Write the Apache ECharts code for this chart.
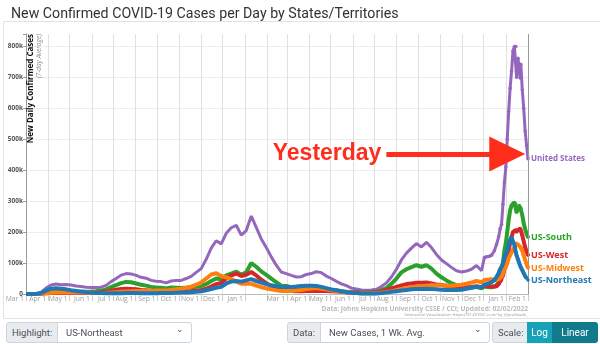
<!DOCTYPE html>
<html><head><meta charset="utf-8">
<script src="https://cdn.jsdelivr.net/npm/echarts@6/dist/echarts.min.js"></script>
<style>
html,body{margin:0;padding:0;background:#fff;width:600px;height:344px;overflow:hidden;font-family:Roboto,"Noto Sans",sans-serif;}
#chart{position:absolute;left:0;top:0;width:600px;height:344px;}
.ctl{position:absolute;top:322px;height:21px;box-sizing:border-box;font-size:9.5px;line-height:19px;color:#495057;border:1px solid #ced4da;}
.lab{background:#e9ecef;padding-left:5px;}
.sel{background:#fff;padding-left:8px;}
.sel:after{content:"\2304";position:absolute;right:7px;top:-3px;font-size:9px;color:#555;}
.btn{color:#fff;text-align:center;border:none;font-size:10px;line-height:21px;}
</style></head>
<body>
<div id="chart"></div>
<div class="ctl lab" style="left:6px;width:52px;border-radius:3px 0 0 3px;">Highlight:</div>
<div class="ctl sel" style="left:57px;width:135px;border-radius:0 3px 3px 0;">US-Northeast</div>
<div class="ctl lab" style="left:287px;width:34px;border-radius:3px 0 0 3px;">Data:</div>
<div class="ctl sel" style="left:320px;width:170px;border-radius:0 3px 3px 0;">New Cases, 1 Wk. Avg.</div>
<div class="ctl lab" style="left:492px;width:36px;border-radius:3px 0 0 3px;">Scale:</div>
<div class="ctl btn" style="left:527px;width:25px;background:#17a2b8;">Log</div>
<div class="ctl btn" style="left:552px;width:46px;background:#117a8b;border-radius:0 3px 3px 0;">Linear</div>
<script>
const dates = [
'2020-03-01','2020-03-08','2020-03-15','2020-03-22','2020-03-29','2020-04-05','2020-04-12','2020-04-19','2020-04-26',
'2020-05-03','2020-05-10','2020-05-17','2020-05-24','2020-05-31','2020-06-07','2020-06-14','2020-06-21','2020-06-28',
'2020-07-05','2020-07-12','2020-07-19','2020-07-26','2020-08-02','2020-08-09','2020-08-16','2020-08-23','2020-08-30',
'2020-09-06','2020-09-13','2020-09-20','2020-09-27','2020-10-04','2020-10-11','2020-10-18','2020-10-25',
'2020-11-01','2020-11-08','2020-11-15','2020-11-22','2020-11-29','2020-12-06','2020-12-13','2020-12-20','2020-12-27',
'2021-01-03','2021-01-10','2021-01-17','2021-01-24','2021-01-31','2021-02-07','2021-02-14','2021-02-21','2021-02-28',
'2021-03-07','2021-03-14','2021-03-21','2021-03-28','2021-04-04','2021-04-11','2021-04-18','2021-04-25',
'2021-05-02','2021-05-09','2021-05-16','2021-05-23','2021-05-30','2021-06-06','2021-06-13','2021-06-20','2021-06-27',
'2021-07-04','2021-07-11','2021-07-18','2021-07-25','2021-08-01','2021-08-08','2021-08-15','2021-08-22','2021-08-29',
'2021-09-05','2021-09-12','2021-09-19','2021-09-26','2021-10-03','2021-10-10','2021-10-17','2021-10-24','2021-10-31',
'2021-11-07','2021-11-14','2021-11-21','2021-11-28',
'2021-12-02','2021-12-05','2021-12-09','2021-12-12','2021-12-16','2021-12-19','2021-12-22','2021-12-24','2021-12-26',
'2021-12-28','2021-12-30','2022-01-01','2022-01-03','2022-01-05','2022-01-07','2022-01-09','2022-01-11','2022-01-13',
'2022-01-15','2022-01-16','2022-01-18','2022-01-20','2022-01-21','2022-01-22','2022-01-24','2022-01-26','2022-01-28',
'2022-01-30','2022-02-01'];

// values in thousands of cases per day (7-day average)
const usTotal = [
0.01,0.1,0.7,5,19,29,32,30,31,
29,26,24,22,21,21,22,28,40,
50,61,66,65,60,54,51,44,41,
40,36,42,44,44,50,57,70,
82,112,148,172,162,196,214,222,190,
205,252,215,178,150,120,93,71,66,
60,55,56,63,66,72,69,58,
50,41,33,27,19,16,13,12,13,
15,24,36,55,80,110,132,148,163,
152,167,150,128,110,98,86,75,71,
74,80,92,75,
118,120,122,125,140,160,185,210,225,
290,360,410,500,590,665,720,785,800,
800,700,762,720,698,742,660,600,527,
480,437];
const usSouth = [
0,0.02,0.2,1.3,4,6,6.5,6.5,7,
7,6.8,7,7.5,8,9,11,15,22,
29,35,39,38,34,30,27,23,21,
20,18,21,20,19,20,21,24,
26,32,42,50,48,60,66,72,62,
70,100,88,73,62,50,38,27,26,
22,20,19,18,18,18,17,15,
13,11,9,7.5,6,5.5,5,5,5.5,
7,12,19,33,50,70,80,87,93,
88,93,82,66,54,44,35,28,24,
22,21,23,18,
24,23,22,22,24,29,40,55,65,
100,140,165,200,240,270,286,292,296,
290,264,280,286,280,276,255,228,210,
195,183];
const usWest = [
0.01,0.05,0.2,0.9,2.2,3,3.3,3.5,3.7,
3.8,3.8,4,4.2,4.5,5,6,8,11,
14,16,17,16,15,13,12,10,9,
8,7,7,7,7.5,8,9,11,
13,17,24,32,36,50,60,66,58,
62,71,60,46,35,26,19,14,11,
10,9,9,9.5,10,10,10,9.5,
9,8,7,6,5,4.5,4,4,4.5,
6,9,13,18,23,28,32,34,36,
36,37,34,31,29,27,25,24,23,
22,23,25,22,
27,26,25,24,24,25,32,40,45,
60,80,90,110,140,165,185,200,205,
206,200,205,210,212,205,190,170,151,
138,125];
const usMidwest = [
0,0,0.1,0.8,2.5,4,4.5,5,6,
6.5,6,5.5,5,4.5,4,3.5,4,5,
6,7,8,9,9.5,9.5,10,10,11,
11.5,11.5,13,15,17,20,24,30,
37,50,63,67,58,54,48,40,33,
33,33,27,22,18,15,12,10,9.5,
9.5,11,13,16,18,19,17,15,
12,10,7.5,5.5,4,3,2.5,2.2,2.3,
3,4.5,6.5,9,12,16,19,22,24,
25,27,28,28,28,27,27,28,30,
33,37,42,38,
45,46,47,48,47,45,48,52,56,
68,80,87,100,116,125,135,141,150,
160,164,160,155,152,151,140,125,110,
97,84];
const usNortheast = [
0,0.05,0.3,3,11,17,19,17,15,
12,10,8,6,5,3.5,3,2.5,2.5,
2.5,2.7,3,3,3,2.8,2.6,2.6,2.8,
3,3.2,3.5,4,4.5,5,6,7,
9,12,16,20,23,34,40,42,40,
44,48,42,37,32,28,25,23,23,
23,24,26,27,27,26,23,19,
15,12,9,6,4,3,2,1.8,1.8,
2,3,4.5,7,9,11,13,15,16,
16,17,16,15,14,13,13,13,14,
17,20,23,22,
30,32,35,38,45,55,68,80,88,
100,118,130,141,160,175,183,170,158,
135,125,112,98,92,86,77,67,58,
51,45];

const seriesNames = ['United States','US-South','US-West','US-Midwest','US-Northeast'];
const seriesValues = [usTotal, usSouth, usWest, usMidwest, usNortheast];
const seriesColors = ['#9467bd','#2ca02c','#d62728','#ff7f0e','#1f77b4'];
const yTicks = [0,100000,200000,300000,400000,500000,600000,700000,800000];
const monthNames = ['Jan','Feb','Mar','Apr','May','Jun','Jul','Aug','Sep','Oct','Nov','Dec'];
const recentStart = '2021-12-01';
const arrowFrom = ['2021-07-18', 452000];
const arrowTo = ['2022-01-03', 452000];
const lastDay = '2022-02-01';

const chart = echarts.init(document.getElementById('chart'), null, {renderer:'canvas'});
const recentT = new Date(recentStart).getTime();

const series = seriesNames.map((name, si) => {
  const isUS = si === 0;
  const s = {
    name: name,
    type: 'line',
    z: 2 + si,
    data: dates.map((d, i) => [d, seriesValues[si][i] * 1000]),
    showSymbol: true,
    symbol: 'circle',
    symbolSize: (v) => (new Date(v[0]).getTime() >= recentT ? 3.5 : 0),
    itemStyle: {color: seriesColors[si]},
    lineStyle: {color: seriesColors[si], width: isUS ? 3 : 4},
    smooth: false,
    animation: false,
    silent: true,
    endLabel: {
      show: true,
      formatter: '{a}',
      color: seriesColors[si],
      fontSize: isUS ? 8 : 9,
      fontWeight: 'bold',
      fontFamily: 'Open Sans',
      distance: 3
    },
    labelLayout: {moveOverlap: 'shiftY'}
  };
  if (isUS) {
    s.markLine = {
      silent: true,
      animation: false,
      data: [
        [
          {coord: arrowFrom, symbol: 'none'},
          {coord: arrowTo, symbol: 'triangle', symbolSize: [35, 36]}
        ],
        {xAxis: lastDay, symbol: 'none', lineStyle: {color: '#999', width: 1, type: 'solid'}, label: {show: false}}
      ],
      symbol: ['none','none'],
      lineStyle: {color: '#ff2d1c', width: 5, type: 'solid'},
      label: {
        show: true,
        position: 'start',
        formatter: 'Yesterday',
        color: '#ff2d1c',
        fontSize: 23,
        fontWeight: 'bold',
        fontFamily: 'Liberation Sans',
        distance: 5,
        textBorderColor: '#fff',
        textBorderWidth: 2
      }
    };
  }
  return s;
});

const option = {
  backgroundColor: '#fff',
  animation: false,
  title: {
    text: 'New Confirmed COVID-19 Cases per Day by States/Territories',
    left: 6, top: 2,
    textStyle: {fontSize: 14.2, fontWeight: 'normal', color: '#333', fontFamily: 'Roboto'}
  },
  grid: {left: 26, right: 72, top: 34, bottom: 50, containLabel: false},
  xAxis: {
    type: 'time',
    min: '2020-03-01',
    max: lastDay,
    splitNumber: 30,
    minInterval: 27 * 86400000,
    maxInterval: 32 * 86400000,
    axisLine: {show: true, lineStyle: {color: '#bbb', width: 1}},
    axisTick: {show: true, length: 7, lineStyle: {color: '#ccc'}},
    splitLine: {show: true, lineStyle: {color: '#e0e0e0', width: 1}},
    axisLabel: {
      align: 'right',
      margin: 2,
      padding: [0, 2, 0, 0],
      fontSize: 6.8,
      color: '#a0a0a0',
      fontFamily: 'Open Sans',
      hideOverlap: false,
      showMinLabel: true,
      showMaxLabel: true,
      formatter: (v) => {
        const d = new Date(v);
        if (d.getDate() !== 1) return '';
        if (d.getFullYear() === 2021 && d.getMonth() === 1) return '';
        return monthNames[d.getMonth()] + ' 1';
      }
    }
  },
  yAxis: {
    type: 'value',
    min: 0,
    max: 840000,
    interval: 100000,
    axisLine: {show: true, lineStyle: {color: '#999', width: 1}},
    axisTick: {show: true, length: 3, lineStyle: {color: '#999'}},
    splitLine: {show: true, showMaxLine: false, lineStyle: {color: '#ececec'}},
    axisLabel: {
      showMaxLabel: true,
      fontSize: 6.5,
      color: '#555',
      fontFamily: 'Open Sans',
      fontWeight: 'bold',
      margin: 3,
      customValues: yTicks,
      formatter: (v) => (v === 0 ? '0' : (v / 1000) + 'k')
    }
  },
  graphic: [
    {type: 'rect', z: -10, shape: {x: 3.5, y: 21.5, width: 600, height: 297}, style: {fill: 'none', stroke: '#e2e2e2', lineWidth: 1}, silent: true},
    {type: 'text', x: 31, y: 34, rotation: Math.PI / 2, z: 50,
     style: {text: 'New Daily Confirmed Cases', fontSize: 8, fontWeight: 'bold', fill: '#111', fontFamily: 'Open Sans', align: 'right', verticalAlign: 'middle'}},
    {type: 'text', x: 39, y: 34, rotation: Math.PI / 2, z: 50,
     style: {text: '(7-day Average)', fontSize: 6.5, fontStyle: 'italic', fill: '#888', fontFamily: 'Open Sans', align: 'right', verticalAlign: 'middle'}},
    {type: 'text', x: 528, y: 309, z: 50,
     style: {text: 'Data: Johns Hopkins University CSSE / CCI; Updated: 02/02/2022', fontSize: 6.6, fontWeight: 'bold', fill: '#bbb', fontFamily: 'Open Sans', align: 'right', verticalAlign: 'middle'}},
    {type: 'text', x: 528, y: 315, z: 50,
     style: {text: 'Interactive Visualization: https://91-DIVOC.com/ by @profwade_', fontSize: 4.2, fill: '#999', fontFamily: 'Open Sans', align: 'right', verticalAlign: 'middle'}}
  ],
  series: series
};
chart.setOption(option);
</script>
</body></html>
